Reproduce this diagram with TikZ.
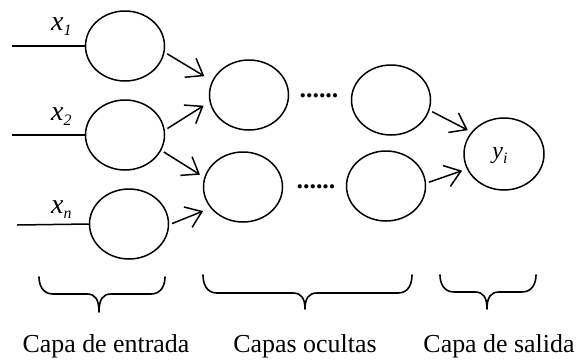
\documentclass[tikz,border=0pt]{standalone}
\usepackage{fontspec}
\setmainfont{Liberation Serif}
\usetikzlibrary{shapes.geometric,arrows.meta}

\tikzset{
  neuron/.style={draw, ellipse, line width=1.5bp, minimum width=79bp,
    minimum height=70bp, inner sep=0pt},
  link/.style={line width=1.5bp, -{Straight Barb[length=15bp,width=22bp,line width=1.5bp]},
    shorten <=3bp},
  feed/.style={line width=1.5bp},
  bracestroke/.style={line width=1.6bp, line cap=round, line join=round},
  layerlabel/.style={font=\fontsize{26}{30}\selectfont, anchor=base, inner sep=0pt},
  varlabel/.style={font=\fontsize{28}{30}\selectfont\itshape, anchor=base west, inner sep=0pt},
  dotsrow/.style={font=\fontsize{26}{28}\selectfont\bfseries, inner sep=0pt}
}

% curly brace opening upwards: left x, right x, tip x, top y, line y, tip y
\newcommand{\layerbrace}[6]{%
  \draw[bracestroke] (#1,#4) .. controls (#1,#5-10) and (#1+3,#5) .. (#1+14,#5)
    -- (#3-12,#5) .. controls (#3-4,#5) and (#3,#5+5) .. (#3,#6)
    .. controls (#3,#5+5) and (#3+4,#5) .. (#3+12,#5)
    -- (#2-14,#5) .. controls (#2-3,#5) and (#2,#5-10) .. (#2,#4);}

\newcommand{\subidx}[1]{\raisebox{-5bp}{\fontsize{16}{16}\selectfont\itshape #1}}

\begin{document}
\begin{tikzpicture}[x=1bp,y=-1bp]
\useasboundingbox (0,0) rectangle (576,360);

% input layer
\node[neuron] (in1) at (125,46) {};
\node[neuron] (in2) at (125,135) {};
\node[neuron] (inn) at (129,224) {};
\coordinate (f1) at (12,46);
\coordinate (f2) at (12,135);
\coordinate (fn) at (17,225);
\draw[feed] (f1) -- (in1.west);
\draw[feed] (f2) -- (in2.west);
\draw[feed] (fn) -- (inn.west);
\node[varlabel] (lx1) at (51,30) {x\subidx{1}};
\node[varlabel] (lx2) at (51,120) {x\subidx{2}};
\node[varlabel] (lxn) at (51,213) {x\subidx{n}};

% hidden layers
\node[neuron] (h1) at (249,95) {};
\node[neuron] (h2) at (243,187) {};
\node[neuron] (h3) at (391,100) {};
\node[neuron] (h4) at (386,186) {};
\node[dotsrow] (d1) at (319,96) {......};
\node[dotsrow] (d2) at (316,187) {......};

% output layer
\node[neuron, minimum width=80bp, minimum height=72bp] (out) at (504,154) {};
\node[font=\fontsize{24}{26}\selectfont\itshape, inner sep=0pt] (ly) at (500,156) {y\subidx{i}};

% connections
\draw[link, shorten >=9bp] (in1.-9) -- (h1.159);
\draw[link, shorten >=7bp] (in2.7) -- (h1.190);
\draw[link, shorten >=5bp] (in2.-23) -- (h2.166);
\draw[link, shorten >=8bp] (inn.-1) -- (h2.213);
\draw[link, shorten >=4bp] (h3.-15) -- (out.146);
\draw[link, shorten >=5bp] (h4.4) -- (out.202);

% layer braces and captions
\layerbrace{39}{165}{99}{277}{294}{312}
\layerbrace{203}{412}{305}{275}{293}{309}
\layerbrace{440}{536}{487}{275}{292}{309}
\node[layerlabel] (c1) at (106,352) {Capa de entrada};
\node[layerlabel] (c2) at (305,352) {Capas ocultas};
\node[layerlabel] (c3) at (499,352) {Capa de salida};
\end{tikzpicture}
\end{document}
